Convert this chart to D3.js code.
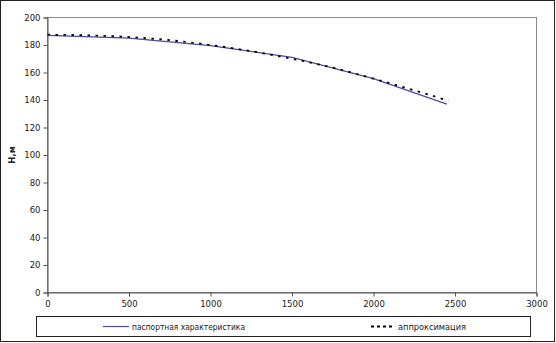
<!DOCTYPE html>
<html>
<head>
<meta charset="utf-8">
<script src="https://cdn.jsdelivr.net/npm/d3@7"></script>
<style>
  html, body { margin: 0; padding: 0; background: #fff; }
  svg { display: block; }
  text { font-family: "DejaVu Sans", Verdana, sans-serif; fill: #222; }
</style>
</head>
<body>
<svg id="chart" width="556" height="343"></svg>
<script>
// Паспортная характеристика насоса H(Q)
const passportQ = [0, 500, 1000, 1500, 2000, 2450];
const passportH = [187, 185, 179.5, 171, 155.5, 137];

// Аппроксимация
const approxQ = [0, 250, 500, 750, 1000, 1250, 1500, 1750, 2000, 2250, 2460];
const approxH = [187.5, 187, 185.8, 183.5, 180, 175.5, 170, 163.5, 155.5, 147, 139.5];

const xTicks = [0, 500, 1000, 1500, 2000, 2500, 3000];
const yTicks = [0, 20, 40, 60, 80, 100, 120, 140, 160, 180, 200];

const yTitle = "H,м";
const seriesNames = ["паспортная характеристика", "аппроксимация"];

const svg = d3.select("#chart");
const W = 556, H = 343;
const plot = { left: 47.5, right: 536.5, top: 17.5, bottom: 292.5 };

// outer frame
svg.append("rect")
  .attr("x", 0.5).attr("y", 0.5)
  .attr("width", W - 2).attr("height", H - 2)
  .attr("fill", "#fff").attr("stroke", "#222").attr("stroke-width", 1);

const x = d3.scaleLinear().domain([0, 3000]).range([plot.left, plot.right]);
const y = d3.scaleLinear().domain([0, 200]).range([plot.bottom, plot.top]);

// plot area border
svg.append("rect")
  .attr("x", plot.left).attr("y", plot.top)
  .attr("width", plot.right - plot.left).attr("height", plot.bottom - plot.top)
  .attr("fill", "none").attr("stroke", "#888").attr("stroke-width", 1);

// axes
const xAxis = d3.axisBottom(x).tickValues(xTicks).tickSize(4).tickPadding(4).tickFormat(d3.format("d"));
const yAxis = d3.axisLeft(y).tickValues(yTicks).tickSize(4).tickPadding(3).tickFormat(d3.format("d"));

const gx = svg.append("g").attr("transform", `translate(0,${plot.bottom})`).call(xAxis);
const gy = svg.append("g").attr("transform", `translate(${plot.left},0)`).call(yAxis);
[gx, gy].forEach(g => {
  g.select(".domain").attr("stroke", "#555");
  g.selectAll(".tick line").attr("stroke", "#555");
  g.selectAll(".tick text").style("font-family", '"DejaVu Sans", Verdana, sans-serif')
    .style("font-size", "8.5px").attr("fill", "#222");
});

// axis title
svg.append("text")
  .attr("transform", `translate(15,${(plot.top + plot.bottom) / 2}) rotate(-90)`)
  .attr("text-anchor", "middle")
  .style("font-size", "8.5px").style("font-weight", "bold")
  .text(yTitle);

const line = d3.line().x(d => x(d[0])).y(d => y(d[1]));
const line2 = d3.line().curve(d3.curveMonotoneX).x(d => x(d[0])).y(d => y(d[1]));

// passport curve
svg.append("path")
  .datum(passportQ.map((q, i) => [q, passportH[i]]))
  .attr("d", line)
  .attr("fill", "none").attr("stroke", "#4b4ba3").attr("stroke-width", 1.2);

// approximation curve
svg.append("path")
  .datum(approxQ.map((q, i) => [q, approxH[i]]))
  .attr("d", line2)
  .attr("fill", "none").attr("stroke", "#000").attr("stroke-width", 1.8)
  .attr("stroke-dasharray", "2.5,5.5");

// legend
const lg = svg.append("g");
lg.append("rect")
  .attr("x", 36.5).attr("y", 316.5).attr("width", 494).attr("height", 20)
  .attr("fill", "#fff").attr("stroke", "#222").attr("stroke-width", 1);
const ly = 326.5;
lg.append("line").attr("x1", 103).attr("x2", 129).attr("y1", ly).attr("y2", ly)
  .attr("stroke", "#4b4ba3").attr("stroke-width", 1.2);
lg.append("text").attr("x", 132).attr("y", ly + 3).style("font-size", "8.5px")
  .attr("textLength", 113).attr("lengthAdjust", "spacingAndGlyphs")
  .text(seriesNames[0]);
lg.append("line").attr("x1", 371).attr("x2", 392).attr("y1", ly).attr("y2", ly)
  .attr("stroke", "#000").attr("stroke-width", 1.8).attr("stroke-dasharray", "3,3");
lg.append("text").attr("x", 398).attr("y", ly + 3).style("font-size", "8.5px")
  .attr("textLength", 68).attr("lengthAdjust", "spacingAndGlyphs")
  .text(seriesNames[1]);
</script>
</body>
</html>
